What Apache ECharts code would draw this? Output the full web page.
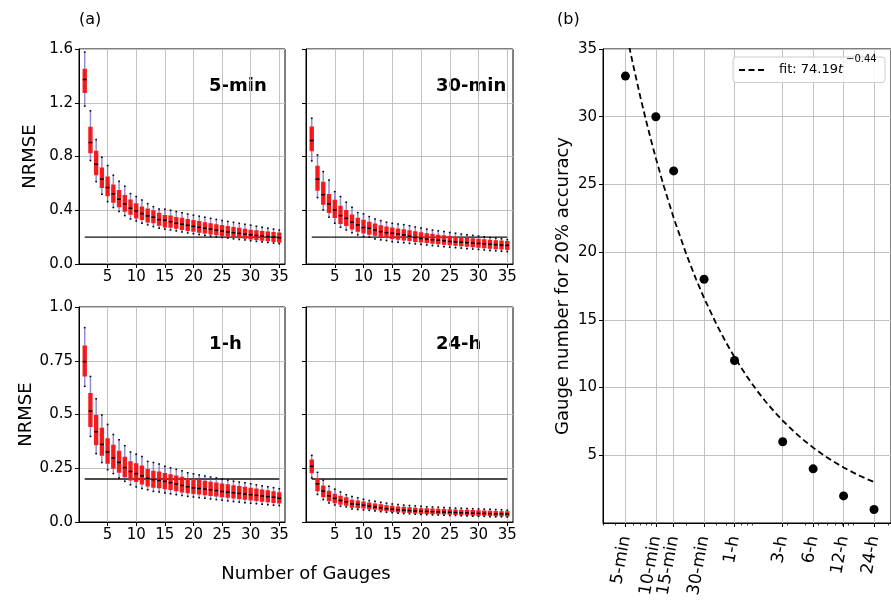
<!DOCTYPE html>
<html><head><meta charset="utf-8">
<script src="https://cdn.jsdelivr.net/npm/echarts@6/dist/echarts.min.js"></script>
<style>html,body{margin:0;padding:0;background:#fff}#c{width:891px;height:601px}</style>
</head><body><div id="c"></div>
<script>
// ---------- Panel (a) data: box statistics per number of gauges ----------
const gauges = [1,2,3,4,5,6,7,8,9,10,11,12,13,14,15,16,17,18,19,20,21,22,23,24,25,26,27,28,29,30,31,32,33,34,35];
const threshold = 0.2;
const thresholdX = [1, 35];
const xTicksA = [5,10,15,20,25,30,35];

// 5-min
const lo5  = [1.175,0.770,0.613,0.519,0.464,0.420,0.390,0.360,0.335,0.320,0.303,0.291,0.278,0.266,0.259,0.253,0.246,0.238,0.231,0.225,0.219,0.213,0.208,0.202,0.197,0.192,0.187,0.182,0.178,0.173,0.168,0.164,0.160,0.155,0.150];
const q1_5 = [1.279,0.829,0.666,0.572,0.509,0.462,0.427,0.395,0.373,0.345,0.333,0.315,0.308,0.291,0.278,0.276,0.268,0.259,0.252,0.246,0.239,0.232,0.226,0.219,0.213,0.208,0.203,0.198,0.193,0.188,0.184,0.179,0.175,0.170,0.164];
const med5 = [1.373,0.904,0.743,0.631,0.569,0.522,0.482,0.447,0.415,0.395,0.375,0.358,0.348,0.330,0.326,0.315,0.303,0.296,0.288,0.280,0.273,0.266,0.259,0.252,0.245,0.239,0.233,0.228,0.222,0.217,0.212,0.208,0.204,0.200,0.196];
const q3_5 = [1.448,1.016,0.837,0.713,0.646,0.586,0.546,0.507,0.475,0.447,0.422,0.408,0.395,0.375,0.360,0.355,0.345,0.338,0.330,0.322,0.314,0.306,0.298,0.291,0.284,0.277,0.270,0.264,0.257,0.250,0.245,0.240,0.236,0.232,0.229];
const hi5  = [1.577,1.140,0.926,0.795,0.733,0.661,0.616,0.579,0.524,0.502,0.477,0.449,0.427,0.410,0.408,0.400,0.390,0.382,0.372,0.364,0.356,0.348,0.340,0.332,0.324,0.317,0.310,0.303,0.296,0.289,0.281,0.274,0.267,0.260,0.253];

// 30-min
const lo30  = [0.767,0.494,0.402,0.348,0.303,0.273,0.253,0.233,0.216,0.204,0.199,0.186,0.179,0.174,0.166,0.161,0.158,0.153,0.149,0.145,0.141,0.137,0.133,0.129,0.125,0.121,0.118,0.114,0.111,0.108,0.104,0.101,0.098,0.095,0.092];
const q1_30 = [0.844,0.551,0.447,0.385,0.348,0.303,0.288,0.263,0.246,0.233,0.224,0.216,0.204,0.199,0.191,0.186,0.181,0.176,0.170,0.165,0.161,0.157,0.153,0.149,0.145,0.141,0.137,0.134,0.130,0.127,0.123,0.120,0.116,0.113,0.110];
const med30 = [0.919,0.631,0.516,0.447,0.402,0.360,0.340,0.311,0.291,0.271,0.266,0.253,0.241,0.233,0.229,0.224,0.216,0.207,0.198,0.190,0.186,0.181,0.177,0.173,0.168,0.165,0.162,0.159,0.156,0.153,0.150,0.147,0.144,0.141,0.139];
const q3_30 = [1.018,0.725,0.606,0.515,0.472,0.427,0.397,0.363,0.338,0.323,0.308,0.296,0.283,0.273,0.266,0.258,0.253,0.246,0.238,0.230,0.224,0.219,0.213,0.208,0.203,0.198,0.194,0.190,0.186,0.182,0.178,0.175,0.172,0.169,0.166];
const hi30  = [1.085,0.812,0.688,0.626,0.539,0.502,0.460,0.422,0.382,0.373,0.353,0.335,0.323,0.311,0.303,0.298,0.293,0.285,0.276,0.267,0.260,0.253,0.247,0.241,0.235,0.229,0.223,0.218,0.213,0.208,0.203,0.198,0.193,0.188,0.182];

// 1-h
const lo60  = [0.631,0.398,0.318,0.277,0.243,0.225,0.205,0.189,0.173,0.163,0.156,0.150,0.142,0.140,0.135,0.131,0.127,0.123,0.119,0.116,0.113,0.110,0.107,0.104,0.101,0.098,0.095,0.092,0.089,0.087,0.085,0.083,0.080,0.078,0.076];
const q1_60 = [0.680,0.445,0.361,0.312,0.274,0.251,0.233,0.212,0.197,0.189,0.178,0.169,0.163,0.161,0.156,0.152,0.147,0.141,0.137,0.134,0.131,0.128,0.125,0.122,0.119,0.116,0.113,0.110,0.107,0.104,0.101,0.098,0.095,0.092,0.089];
const med60 = [0.746,0.516,0.420,0.361,0.326,0.298,0.277,0.253,0.235,0.225,0.215,0.203,0.197,0.193,0.189,0.183,0.177,0.170,0.164,0.159,0.156,0.153,0.150,0.146,0.142,0.139,0.136,0.133,0.130,0.127,0.124,0.121,0.118,0.115,0.111];
const q3_60 = [0.817,0.597,0.494,0.435,0.386,0.356,0.328,0.300,0.279,0.270,0.259,0.243,0.235,0.231,0.225,0.219,0.213,0.207,0.200,0.196,0.192,0.188,0.184,0.180,0.176,0.172,0.168,0.164,0.160,0.156,0.152,0.148,0.144,0.140,0.135];
const hi60  = [0.904,0.677,0.573,0.498,0.454,0.407,0.383,0.355,0.326,0.316,0.305,0.282,0.277,0.270,0.259,0.252,0.245,0.238,0.229,0.224,0.219,0.214,0.209,0.205,0.200,0.195,0.190,0.186,0.182,0.178,0.173,0.169,0.164,0.160,0.155];

// 24-h
const lo1440  = [0.205,0.128,0.104,0.088,0.079,0.073,0.070,0.060,0.058,0.056,0.054,0.051,0.048,0.045,0.043,0.041,0.039,0.038,0.036,0.035,0.034,0.033,0.032,0.031,0.030,0.030,0.029,0.028,0.027,0.026,0.026,0.025,0.024,0.024,0.023];
const q1_1440 = [0.230,0.147,0.119,0.100,0.091,0.084,0.079,0.070,0.068,0.066,0.063,0.060,0.056,0.053,0.050,0.048,0.046,0.045,0.043,0.042,0.041,0.040,0.039,0.038,0.037,0.036,0.035,0.034,0.033,0.032,0.032,0.031,0.030,0.030,0.029];
const med1440 = [0.259,0.178,0.144,0.122,0.110,0.100,0.094,0.084,0.082,0.078,0.074,0.070,0.066,0.062,0.059,0.057,0.055,0.053,0.051,0.050,0.049,0.048,0.047,0.046,0.045,0.044,0.043,0.042,0.041,0.040,0.040,0.039,0.038,0.038,0.037];
const q3_1440 = [0.287,0.201,0.166,0.142,0.128,0.119,0.112,0.100,0.097,0.092,0.087,0.083,0.079,0.075,0.072,0.069,0.067,0.065,0.063,0.061,0.060,0.059,0.058,0.057,0.056,0.055,0.054,0.053,0.052,0.051,0.050,0.049,0.048,0.047,0.046];
const hi1440  = [0.310,0.231,0.194,0.166,0.153,0.140,0.127,0.119,0.113,0.106,0.100,0.096,0.092,0.088,0.084,0.081,0.079,0.077,0.075,0.073,0.071,0.070,0.069,0.067,0.066,0.065,0.064,0.063,0.062,0.061,0.060,0.059,0.058,0.057,0.055];

// ---------- Panel (b) data ----------
const durLabels = ['5-min','10-min','15-min','30-min','1-h','3-h','6-h','12-h','24-h'];
const durMinutes = [5,10,15,30,60,180,360,720,1440];
const gaugesNeeded = [33,30,26,18,12,6,4,2,1];
const minorMinutes = [3,4,6,7,8,9,20,40,50,70,80,90,200,300,400,500,600,700,800,900,2000];
const yTicksB = [5,10,15,20,25,30,35];
// fit shown in legend: 74.19 t^-0.44
const fitA = 74.19, fitB = -0.44;
const fitT = [5,5.5,6,7,8,9,10,12,15,20,25,30,40,50,60,80,100,120,150,180,240,300,360,480,600,720,900,1080,1200,1440];

// ---------- build chart ----------
const FONT = 'DejaVu Sans';
const GRIDC = '#c2c2c2';
const L = Math.log10;

const panels = [
  {title:'5-min',  lo:lo5,    q1:q1_5,    med:med5,    q3:q3_5,    hi:hi5,    ymax:1.6, yint:0.4,  ylab:true,  grid:{left:79, top:49, width:206, height:215}},
  {title:'30-min', lo:lo30,   q1:q1_30,   med:med30,   q3:q3_30,   hi:hi30,   ymax:1.6, yint:0.4,  ylab:false, grid:{left:306,top:49, width:207, height:215}},
  {title:'1-h',    lo:lo60,   q1:q1_60,   med:med60,   q3:q3_60,   hi:hi60,   ymax:1.0, yint:0.25, ylab:true,  grid:{left:79, top:307,width:206, height:215}},
  {title:'24-h',   lo:lo1440, q1:q1_1440, med:med1440, q3:q3_1440, hi:hi1440, ymax:1.0, yint:0.25, ylab:false, grid:{left:306,top:307,width:207, height:215}}
];

function boxItem(params, api) {
  const x = api.value(0);
  const pLo = api.coord([x, api.value(1)]);
  const pQ1 = api.coord([x, api.value(2)]);
  const pMd = api.coord([x, api.value(3)]);
  const pQ3 = api.coord([x, api.value(4)]);
  const pHi = api.coord([x, api.value(5)]);
  const w = api.size([0.5, 0])[0];
  const cw = api.size([0.3, 0])[0];
  const cx = pLo[0];
  return {type:'group', children:[
    {type:'line', shape:{x1:cx, y1:pLo[1], x2:cx, y2:pHi[1]}, style:{stroke:'rgba(70,70,180,0.6)', lineWidth:1.5}},
    {type:'rect', shape:{x:cx-w/2, y:pQ3[1], width:w, height:pQ1[1]-pQ3[1]}, style:{fill:'rgba(235,0,0,0.8)', stroke:'#ff1a1a', lineWidth:1.5}},
    {type:'line', shape:{x1:cx-w/2-0.5, y1:pMd[1], x2:cx+w/2+0.5, y2:pMd[1]}, style:{stroke:'#000', lineWidth:1.5}},
    {type:'line', shape:{x1:cx-cw/2, y1:pLo[1], x2:cx+cw/2, y2:pLo[1]}, style:{stroke:'#000', lineWidth:1.5}},
    {type:'line', shape:{x1:cx-cw/2, y1:pHi[1], x2:cx+cw/2, y2:pHi[1]}, style:{stroke:'#000', lineWidth:1.5}}
  ]};
}

const grids = [], xAxes = [], yAxes = [], series = [], graphics = [];
panels.forEach((p, i) => {
  grids.push(Object.assign({show:true, borderColor:'#000', borderWidth:1, containLabel:false}, p.grid));
  xAxes.push({type:'value', gridIndex:i, min:0, max:36, interval:5,
    axisLine:{show:true, lineStyle:{color:'#000', width:1}},
    axisTick:{show:true, inside:false, length:4, customValues:xTicksA, lineStyle:{color:'#000', width:1}},
    axisLabel:{show:true, customValues:xTicksA, color:'#000', fontSize:15, fontFamily:FONT, margin:6},
    splitLine:{show:true, lineStyle:{color:GRIDC, width:1}}});
  yAxes.push({type:'value', gridIndex:i, min:0, max:p.ymax, interval:p.yint,
    axisLine:{show:true, lineStyle:{color:'#000', width:1}},
    axisTick:{show:true, inside:false, length:4, lineStyle:{color:'#000', width:1}},
    axisLabel:{show:p.ylab, color:'#000', fontSize:15, fontFamily:FONT, margin:6,
      formatter: v => (p.yint === 0.4 || v === 0 || v === 1) ? v.toFixed(1) : String(v)},
    splitLine:{show:true, lineStyle:{color:GRIDC, width:1}},
    name: p.ylab ? 'NRMSE' : '', nameLocation:'middle', nameGap:40, nameRotate:90,
    nameTextStyle:{color:'#000', fontSize:18, fontFamily:FONT}});
  series.push({type:'line', xAxisIndex:i, yAxisIndex:i, silent:true, symbol:'none', z:2,
    data: thresholdX.map(x => [x, threshold]), lineStyle:{color:'#111', width:1.3}});
  series.push({type:'custom', xAxisIndex:i, yAxisIndex:i, silent:true, z:3, renderItem: boxItem,
    encode:{x:0, y:[1,2,3,4,5]},
    data: gauges.map((g, k) => [g, p.lo[k], p.q1[k], p.med[k], p.q3[k], p.hi[k]])});
  graphics.push({type:'text', x:p.grid.left + 130, y:p.grid.top + 37,
    style:{text:p.title, font:'bold 18px "DejaVu Sans"', fill:'#000', align:'left', verticalAlign:'middle'}});
});

// panel (b)
grids.push({show:true, borderColor:'#000', borderWidth:1, left:603, top:49, width:290, height:474});
xAxes.push({type:'value', gridIndex:4, position:'bottom', min:L(3), max:L(2120),
  axisLine:{show:true, lineStyle:{color:'#000', width:1}},
  axisTick:{show:true, length:4, customValues:durMinutes.map(L), lineStyle:{color:'#000', width:1}},
  axisLabel:{show:true, customValues:durMinutes.map(L), rotate:80, color:'#000', fontSize:17, fontFamily:FONT, margin:13,
    formatter: v => { let best = 0; durMinutes.forEach((m, k) => { if (Math.abs(L(m) - v) < Math.abs(L(durMinutes[best]) - v)) best = k; }); return durLabels[best]; }},
  splitLine:{show:true, lineStyle:{color:GRIDC, width:1}}});
xAxes.push({type:'value', gridIndex:4, position:'bottom', offset:0, min:L(3), max:L(2120),
  axisLine:{show:false}, axisLabel:{show:false}, splitLine:{show:false},
  axisTick:{show:true, length:2.5, customValues:minorMinutes.map(L), lineStyle:{color:'#000', width:0.8}}});
yAxes.push({type:'value', gridIndex:4, min:0, max:35, interval:5,
  axisLine:{show:true, lineStyle:{color:'#000', width:1}},
  axisTick:{show:true, length:4, customValues:yTicksB, lineStyle:{color:'#000', width:1}},
  axisLabel:{show:true, customValues:yTicksB, color:'#000', fontSize:15, fontFamily:FONT, margin:6},
  splitLine:{show:true, lineStyle:{color:GRIDC, width:1}},
  name:'Gauge number for 20% accuracy', nameLocation:'middle', nameGap:31, nameRotate:90,
  nameTextStyle:{color:'#000', fontSize:18, fontFamily:FONT}});

series.push({name:'fit', type:'line', xAxisIndex:4, yAxisIndex:4, silent:true, symbol:'none', showSymbol:false, z:3,
  data: fitT.map(t => [L(t), fitA * Math.pow(t, fitB)]),
  lineStyle:{color:'#000', width:1.8, type:[6,3.5]}, itemStyle:{color:'#000'}});
series.push({name:'points', type:'scatter', xAxisIndex:4, yAxisIndex:4, silent:true, z:4, symbolSize:9,
  data: durMinutes.map((m, k) => [L(m), gaugesNeeded[k]]), itemStyle:{color:'#000', opacity:1}});

// legend box for the fit line
graphics.push({type:'rect', z:100, shape:{x:733, y:57, width:152, height:25.5, r:3},
  style:{fill:'rgba(255,255,255,0.85)', stroke:'#cccccc', lineWidth:1}});
graphics.push({type:'line', z:101, shape:{x1:739, y1:70, x2:767, y2:70},
  style:{stroke:'#000', lineWidth:1.8, lineDash:[6,3.5]}});
graphics.push({type:'text', z:101, x:779, y:54,
  style:{text:'{n|fit: ' + fitA.toFixed(2) + '}{t|t}{s|' + fitB.toFixed(2).replace('-', '\u2212') + '}',
    verticalAlign:'top', align:'left', fill:'#000',
    rich:{n:{fontSize:13, fontFamily:FONT, fill:'#000', lineHeight:22, verticalAlign:'bottom'},
          t:{fontSize:13, fontFamily:FONT, fontStyle:'italic', fill:'#000', lineHeight:22, verticalAlign:'bottom', width:8},
          s:{fontSize:10, fontFamily:FONT, fill:'#000', lineHeight:11, verticalAlign:'top'}}}});

graphics.push({type:'text', x:306, y:574, style:{text:'Number of Gauges', font:'18px "DejaVu Sans"', fill:'#000', align:'center', verticalAlign:'middle'}});
graphics.push({type:'text', x:79, y:20, style:{text:'(a)', font:'16px "DejaVu Sans"', fill:'#000', align:'left', verticalAlign:'middle'}});
graphics.push({type:'text', x:557, y:20, style:{text:'(b)', font:'16px "DejaVu Sans"', fill:'#000', align:'left', verticalAlign:'middle'}});

const chart = echarts.init(document.getElementById('c'), null, {renderer:'canvas', width:891, height:601});
chart.setOption({
  animation:false,
  backgroundColor:'#fff',
  textStyle:{fontFamily:FONT},
  grid:grids, xAxis:xAxes, yAxis:yAxes, series:series, graphic:graphics
});
</script></body></html>
